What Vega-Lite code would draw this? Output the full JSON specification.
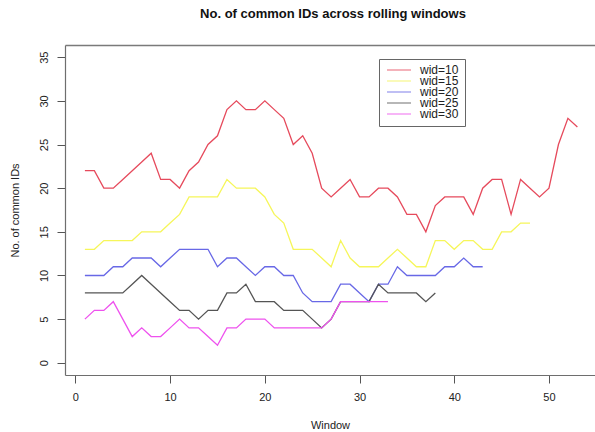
{
  "$schema": "https://vega.github.io/schema/vega-lite/v6.json",
  "width": 530,
  "height": 330,
  "autosize": {"type": "none"},
  "padding": {"left": 65, "top": 45, "right": 0, "bottom": 57},
  "background": "white",
  "config": {
    "font": "Liberation Sans",
    "view": {"stroke": null},
    "axis": {"grid": false, "domainColor": "#6e6e6e", "tickColor": "#555", "labelColor": "#222", "titleColor": "#222", "labelFontSize": 11, "titleFontSize": 11, "titleFontWeight": "normal", "tickSize": 8, "domainWidth": 1.2}
  },
  "title": {"text": "No. of common IDs across rolling windows", "fontSize": 13, "fontWeight": "bold", "color": "#111", "anchor": "middle", "offset": 24, "dx": 3},
  "data": {"values": [
    {"w":"wid=10","x":1,"y":22},{"w":"wid=10","x":2,"y":22},{"w":"wid=10","x":3,"y":20},{"w":"wid=10","x":4,"y":20},{"w":"wid=10","x":5,"y":21},{"w":"wid=10","x":6,"y":22},{"w":"wid=10","x":7,"y":23},{"w":"wid=10","x":8,"y":24},{"w":"wid=10","x":9,"y":21},{"w":"wid=10","x":10,"y":21},
    {"w":"wid=10","x":11,"y":20},{"w":"wid=10","x":12,"y":22},{"w":"wid=10","x":13,"y":23},{"w":"wid=10","x":14,"y":25},{"w":"wid=10","x":15,"y":26},{"w":"wid=10","x":16,"y":29},{"w":"wid=10","x":17,"y":30},{"w":"wid=10","x":18,"y":29},{"w":"wid=10","x":19,"y":29},{"w":"wid=10","x":20,"y":30},
    {"w":"wid=10","x":21,"y":29},{"w":"wid=10","x":22,"y":28},{"w":"wid=10","x":23,"y":25},{"w":"wid=10","x":24,"y":26},{"w":"wid=10","x":25,"y":24},{"w":"wid=10","x":26,"y":20},{"w":"wid=10","x":27,"y":19},{"w":"wid=10","x":28,"y":20},{"w":"wid=10","x":29,"y":21},{"w":"wid=10","x":30,"y":19},
    {"w":"wid=10","x":31,"y":19},{"w":"wid=10","x":32,"y":20},{"w":"wid=10","x":33,"y":20},{"w":"wid=10","x":34,"y":19},{"w":"wid=10","x":35,"y":17},{"w":"wid=10","x":36,"y":17},{"w":"wid=10","x":37,"y":15},{"w":"wid=10","x":38,"y":18},{"w":"wid=10","x":39,"y":19},{"w":"wid=10","x":40,"y":19},
    {"w":"wid=10","x":41,"y":19},{"w":"wid=10","x":42,"y":17},{"w":"wid=10","x":43,"y":20},{"w":"wid=10","x":44,"y":21},{"w":"wid=10","x":45,"y":21},{"w":"wid=10","x":46,"y":17},{"w":"wid=10","x":47,"y":21},{"w":"wid=10","x":48,"y":20},{"w":"wid=10","x":49,"y":19},{"w":"wid=10","x":50,"y":20},
    {"w":"wid=10","x":51,"y":25},{"w":"wid=10","x":52,"y":28},{"w":"wid=10","x":53,"y":27},
    {"w":"wid=15","x":1,"y":13},{"w":"wid=15","x":2,"y":13},{"w":"wid=15","x":3,"y":14},{"w":"wid=15","x":4,"y":14},{"w":"wid=15","x":5,"y":14},{"w":"wid=15","x":6,"y":14},{"w":"wid=15","x":7,"y":15},{"w":"wid=15","x":8,"y":15},{"w":"wid=15","x":9,"y":15},{"w":"wid=15","x":10,"y":16},
    {"w":"wid=15","x":11,"y":17},{"w":"wid=15","x":12,"y":19},{"w":"wid=15","x":13,"y":19},{"w":"wid=15","x":14,"y":19},{"w":"wid=15","x":15,"y":19},{"w":"wid=15","x":16,"y":21},{"w":"wid=15","x":17,"y":20},{"w":"wid=15","x":18,"y":20},{"w":"wid=15","x":19,"y":20},{"w":"wid=15","x":20,"y":19},
    {"w":"wid=15","x":21,"y":17},{"w":"wid=15","x":22,"y":16},{"w":"wid=15","x":23,"y":13},{"w":"wid=15","x":24,"y":13},{"w":"wid=15","x":25,"y":13},{"w":"wid=15","x":26,"y":12},{"w":"wid=15","x":27,"y":11},{"w":"wid=15","x":28,"y":14},{"w":"wid=15","x":29,"y":12},{"w":"wid=15","x":30,"y":11},
    {"w":"wid=15","x":31,"y":11},{"w":"wid=15","x":32,"y":11},{"w":"wid=15","x":33,"y":12},{"w":"wid=15","x":34,"y":13},{"w":"wid=15","x":35,"y":12},{"w":"wid=15","x":36,"y":11},{"w":"wid=15","x":37,"y":11},{"w":"wid=15","x":38,"y":14},{"w":"wid=15","x":39,"y":14},{"w":"wid=15","x":40,"y":13},
    {"w":"wid=15","x":41,"y":14},{"w":"wid=15","x":42,"y":14},{"w":"wid=15","x":43,"y":13},{"w":"wid=15","x":44,"y":13},{"w":"wid=15","x":45,"y":15},{"w":"wid=15","x":46,"y":15},{"w":"wid=15","x":47,"y":16},{"w":"wid=15","x":48,"y":16},
    {"w":"wid=20","x":1,"y":10},{"w":"wid=20","x":2,"y":10},{"w":"wid=20","x":3,"y":10},{"w":"wid=20","x":4,"y":11},{"w":"wid=20","x":5,"y":11},{"w":"wid=20","x":6,"y":12},{"w":"wid=20","x":7,"y":12},{"w":"wid=20","x":8,"y":12},{"w":"wid=20","x":9,"y":11},{"w":"wid=20","x":10,"y":12},
    {"w":"wid=20","x":11,"y":13},{"w":"wid=20","x":12,"y":13},{"w":"wid=20","x":13,"y":13},{"w":"wid=20","x":14,"y":13},{"w":"wid=20","x":15,"y":11},{"w":"wid=20","x":16,"y":12},{"w":"wid=20","x":17,"y":12},{"w":"wid=20","x":18,"y":11},{"w":"wid=20","x":19,"y":10},{"w":"wid=20","x":20,"y":11},
    {"w":"wid=20","x":21,"y":11},{"w":"wid=20","x":22,"y":10},{"w":"wid=20","x":23,"y":10},{"w":"wid=20","x":24,"y":8},{"w":"wid=20","x":25,"y":7},{"w":"wid=20","x":26,"y":7},{"w":"wid=20","x":27,"y":7},{"w":"wid=20","x":28,"y":9},{"w":"wid=20","x":29,"y":9},{"w":"wid=20","x":30,"y":8},
    {"w":"wid=20","x":31,"y":7},{"w":"wid=20","x":32,"y":9},{"w":"wid=20","x":33,"y":9},{"w":"wid=20","x":34,"y":11},{"w":"wid=20","x":35,"y":10},{"w":"wid=20","x":36,"y":10},{"w":"wid=20","x":37,"y":10},{"w":"wid=20","x":38,"y":10},{"w":"wid=20","x":39,"y":11},{"w":"wid=20","x":40,"y":11},
    {"w":"wid=20","x":41,"y":12},{"w":"wid=20","x":42,"y":11},{"w":"wid=20","x":43,"y":11},
    {"w":"wid=25","x":1,"y":8},{"w":"wid=25","x":2,"y":8},{"w":"wid=25","x":3,"y":8},{"w":"wid=25","x":4,"y":8},{"w":"wid=25","x":5,"y":8},{"w":"wid=25","x":6,"y":9},{"w":"wid=25","x":7,"y":10},{"w":"wid=25","x":8,"y":9},{"w":"wid=25","x":9,"y":8},{"w":"wid=25","x":10,"y":7},
    {"w":"wid=25","x":11,"y":6},{"w":"wid=25","x":12,"y":6},{"w":"wid=25","x":13,"y":5},{"w":"wid=25","x":14,"y":6},{"w":"wid=25","x":15,"y":6},{"w":"wid=25","x":16,"y":8},{"w":"wid=25","x":17,"y":8},{"w":"wid=25","x":18,"y":9},{"w":"wid=25","x":19,"y":7},{"w":"wid=25","x":20,"y":7},
    {"w":"wid=25","x":21,"y":7},{"w":"wid=25","x":22,"y":6},{"w":"wid=25","x":23,"y":6},{"w":"wid=25","x":24,"y":6},{"w":"wid=25","x":25,"y":5},{"w":"wid=25","x":26,"y":4},{"w":"wid=25","x":27,"y":5},{"w":"wid=25","x":28,"y":7},{"w":"wid=25","x":29,"y":7},{"w":"wid=25","x":30,"y":7},
    {"w":"wid=25","x":31,"y":7},{"w":"wid=25","x":32,"y":9},{"w":"wid=25","x":33,"y":8},{"w":"wid=25","x":34,"y":8},{"w":"wid=25","x":35,"y":8},{"w":"wid=25","x":36,"y":8},{"w":"wid=25","x":37,"y":7},{"w":"wid=25","x":38,"y":8},
    {"w":"wid=30","x":1,"y":5},{"w":"wid=30","x":2,"y":6},{"w":"wid=30","x":3,"y":6},{"w":"wid=30","x":4,"y":7},{"w":"wid=30","x":5,"y":5},{"w":"wid=30","x":6,"y":3},{"w":"wid=30","x":7,"y":4},{"w":"wid=30","x":8,"y":3},{"w":"wid=30","x":9,"y":3},{"w":"wid=30","x":10,"y":4},
    {"w":"wid=30","x":11,"y":5},{"w":"wid=30","x":12,"y":4},{"w":"wid=30","x":13,"y":4},{"w":"wid=30","x":14,"y":3},{"w":"wid=30","x":15,"y":2},{"w":"wid=30","x":16,"y":4},{"w":"wid=30","x":17,"y":4},{"w":"wid=30","x":18,"y":5},{"w":"wid=30","x":19,"y":5},{"w":"wid=30","x":20,"y":5},
    {"w":"wid=30","x":21,"y":4},{"w":"wid=30","x":22,"y":4},{"w":"wid=30","x":23,"y":4},{"w":"wid=30","x":24,"y":4},{"w":"wid=30","x":25,"y":4},{"w":"wid=30","x":26,"y":4},{"w":"wid=30","x":27,"y":5},{"w":"wid=30","x":28,"y":7},{"w":"wid=30","x":29,"y":7},{"w":"wid=30","x":30,"y":7},
    {"w":"wid=30","x":31,"y":7},{"w":"wid=30","x":32,"y":7},{"w":"wid=30","x":33,"y":7}
  ]},
  "layer": [
    {
      "mark": {"type": "line", "strokeWidth": 1.3, "clip": true},
      "encoding": {
        "x": {"field": "x", "type": "quantitative", "scale": {"domain": [-1.1, 54.86], "nice": false, "zero": false},
          "axis": {"title": "Window", "values": [0, 10, 20, 30, 40, 50], "labelPadding": 8, "titlePadding": 17, "labelFlush": false}},
        "y": {"field": "y", "type": "quantitative", "scale": {"domain": [-1.4, 36.4], "nice": false, "zero": false},
          "axis": {"title": "No. of common IDs", "values": [0, 5, 10, 15, 20, 25, 30, 35], "labelAngle": -90, "labelPadding": 8, "titlePadding": 18, "labelFlush": false}},
        "color": {"field": "w", "type": "nominal",
          "scale": {"domain": ["wid=10", "wid=15", "wid=20", "wid=25", "wid=30"], "range": ["#e64a5c", "#f6f65a", "#6868e6", "#555555", "#ee52ee"]},
          "legend": {"title": null, "orient": "none", "legendX": 314, "legendY": 14, "symbolType": "M-1,0H3.8", "symbolSize": 100, "symbolStrokeWidth": 1.2, "labelFontSize": 12, "labelColor": "#222", "symbolOffset": 1, "labelOffset": 22, "clipHeight": 10, "rowPadding": -6, "padding": 6, "strokeColor": "#666", "fillColor": "white", "symbolOpacity": 0.7}}
      }
    },
    {
      "mark": {"type": "rule", "opacity": 0},
      "encoding": {
        "x": {"field": "x", "type": "quantitative", "aggregate": "min",
          "axis": {"orient": "top", "labels": false, "ticks": false, "title": null, "domainColor": "#7a7a7a", "domainWidth": 1.6}}
      }
    }
  ],
  "resolve": {"axis": {"x": "independent"}}
}
